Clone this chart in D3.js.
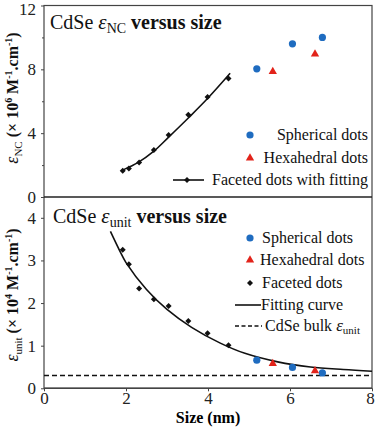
<!DOCTYPE html>
<html><head><meta charset="utf-8">
<script src="https://cdn.jsdelivr.net/npm/d3@7"></script>
<style>
body{margin:0;background:#fff;}
svg, svg text{font-family:"Liberation Serif","Times New Roman",serif;}
</style></head>
<body>
<svg id="c" width="375" height="427"></svg>
<script>
// ---- data ----
const xTicks = [0, 2, 4, 6, 8];
const topTicks = [0, 4, 8, 12];
const topMinor = [2, 6, 10];
const botTicks = [0, 1, 2, 3, 4];

const facetedSize = [1.92, 2.07, 2.32, 2.68, 3.04, 3.52, 3.99, 4.50];
const facetedNC   = [1.65, 1.78, 2.16, 2.94, 3.88, 5.16, 6.27, 7.42];
const facetedUnit = [3.25, 2.91, 2.34, 2.09, 1.93, 1.58, 1.29, 1.01];

const sphericalSize = [5.19, 6.06, 6.79];
const sphericalNC   = [8.03, 9.60, 10.0];
const sphericalUnit = [0.66, 0.49, 0.36];

const hexSize = [5.58, 6.61];
const hexNC   = [7.86, 8.95];
const hexUnit = [0.58, 0.41];

const fitNCSize = [1.93, 2.30, 2.68, 3.04, 3.52, 4.00, 4.54];
const fitNCVal  = [1.70, 2.17, 2.87, 3.75, 4.95, 6.20, 7.75];

const fitUnitSize = [1.62, 1.85, 2.0, 2.5, 3.0, 3.6, 4.3, 4.9, 5.7, 6.5, 7.3, 8.0];
const fitUnitVal  = [3.68, 3.22, 2.95, 2.32, 1.85, 1.43, 1.06, 0.82, 0.62, 0.50, 0.44, 0.40];

const bulkUnit = 0.30;

// ---- drawing ----
const FONT = '"Liberation Serif","Times New Roman",serif';
const svg = d3.select("#c");
const BLUE = "#1f6cc0", RED = "#e2231a", AX = "#444";
const x = d3.scaleLinear([0, 8], [44, 372]);
const yT = d3.scaleLinear([0, 12], [197, 5.5]);
const yB = d3.scaleLinear([0, 4.5], [388.3, 196.5]);

const zip = (a, b) => a.map((v, i) => [v, b[i]]);
const line = (ys) => d3.line().x(d => x(d[0])).y(d => ys(d[1])).curve(d3.curveCatmullRom);

// frames
svg.append("rect").attr("x", x(0)).attr("y", yT(12)).attr("width", x(8) - x(0)).attr("height", yB(0) - yT(12))
  .attr("fill", "none").attr("stroke", AX).attr("stroke-width", 1.2);
svg.append("line").attr("x1", x(0)).attr("x2", x(8)).attr("y1", yT(0)).attr("y2", yT(0))
  .attr("stroke", "#222").attr("stroke-width", 1.5);
svg.append("line").attr("x1", x(0)).attr("x2", x(8)).attr("y1", yB(0)).attr("y2", yB(0))
  .attr("stroke", AX).attr("stroke-width", 1.5);

function styleAxis(g) {
  g.attr("font-family", null).style("font-family", FONT);
  g.select(".domain").remove();
  g.selectAll("line").attr("stroke", AX);
  g.selectAll("text").attr("fill", "#222").attr("font-size", 17).style("font-family", FONT);
}

// y axes
const gT = svg.append("g").attr("transform", `translate(${x(0)},0)`)
  .call(d3.axisLeft(yT).tickValues(topTicks).tickSize(3).tickPadding(5).tickFormat(d3.format("d")))
  .call(styleAxis);
gT.selectAll(".tick text").filter(d => d === 12).attr("dy", "0.5em");
svg.append("g").attr("transform", `translate(${x(0)},0)`)
  .call(d3.axisLeft(yT).tickValues(topMinor).tickSize(2).tickFormat(""))
  .call(styleAxis);
svg.append("g").attr("transform", `translate(${x(0)},0)`)
  .call(d3.axisLeft(yB).tickValues(botTicks).tickSize(3).tickPadding(5).tickFormat(d3.format("d")))
  .call(styleAxis);
// x axis
const gX = svg.append("g").attr("transform", `translate(0,${yB(0)})`)
  .call(d3.axisBottom(x).tickValues(xTicks).tickSize(3).tickPadding(1).tickFormat(d3.format("d")))
  .call(styleAxis);
gX.selectAll(".tick text").filter(d => d === 8).attr("dx", "-0.12em");

svg.append("text").attr("x", x(4)).attr("y", 423).attr("text-anchor", "middle")
  .attr("font-size", 16).attr("font-weight", "bold").style("font-family", FONT).text("Size (nm)");

// y labels
function yLabel(cx, cy, sub, exp) {
  const t = svg.append("text").attr("transform", `translate(${cx},${cy}) rotate(-90)`)
    .attr("text-anchor", "middle").attr("font-size", 16).attr("font-weight", "bold").attr("fill", "#111")
    .style("font-family", FONT);
  t.append("tspan").attr("font-style", "italic").attr("font-weight", "normal").attr("font-size", 18).text("ε");
  t.append("tspan").attr("font-size", 11).attr("font-weight", "normal").attr("dy", 4).text(sub);
  t.append("tspan").attr("dy", -4).text(" (× 10");
  t.append("tspan").attr("font-size", 10).attr("dy", -6).text(exp);
  t.append("tspan").attr("dy", 6).text(" M");
  t.append("tspan").attr("font-size", 10).attr("dy", -6).text("-1");
  t.append("tspan").attr("dy", 6).text(".cm");
  t.append("tspan").attr("font-size", 10).attr("dy", -6).text("-1");
  t.append("tspan").attr("dy", 6).text(")");
}
yLabel(18, 98, "NC", "6");
yLabel(18, 295, "unit", "4");

// titles
function title(tx, ty, sub) {
  const t = svg.append("text").attr("x", tx).attr("y", ty).attr("font-size", 20).attr("fill", "#111")
    .style("font-family", FONT);
  t.append("tspan").text("CdSe ");
  t.append("tspan").attr("font-style", "italic").attr("font-size", 21).text("ε");
  t.append("tspan").attr("font-size", 14).attr("dy", 4).text(sub);
  t.append("tspan").attr("dy", -4).attr("font-weight", "bold").text(" versus size");
}
title(50, 29, "NC");
title(53, 223, "unit");

// markers
const diamond = d3.symbol().type(d3.symbolSquare).size(18);
const tri = d3.symbol().type(d3.symbolTriangle).size(30);
function markers(ys, fs, fv, ss, sv, hs, hv) {
  svg.append("g").selectAll("circle").data(zip(ss, sv)).join("circle")
    .attr("cx", d => x(d[0])).attr("cy", d => ys(d[1])).attr("r", 3.6).attr("fill", BLUE);
  svg.append("g").selectAll("path").data(zip(hs, hv)).join("path")
    .attr("transform", d => `translate(${x(d[0])},${ys(d[1])})`).attr("d", tri).attr("fill", RED);
  svg.append("g").selectAll("path").data(zip(fs, fv)).join("path")
    .attr("transform", d => `translate(${x(d[0])},${ys(d[1])}) rotate(45)`).attr("d", diamond).attr("fill", "#111");
}

// top panel
svg.append("path").datum(zip(fitNCSize, fitNCVal)).attr("d", line(yT))
  .attr("fill", "none").attr("stroke", "#111").attr("stroke-width", 1.6);
markers(yT, facetedSize, facetedNC, sphericalSize, sphericalNC, hexSize, hexNC);

// bottom panel
svg.append("line").attr("x1", x(0)).attr("x2", x(8)).attr("y1", yB(bulkUnit)).attr("y2", yB(bulkUnit))
  .attr("stroke", "#111").attr("stroke-width", 1.6).attr("stroke-dasharray", "5,3");
svg.append("path").datum(zip(fitUnitSize, fitUnitVal)).attr("d", line(yB))
  .attr("fill", "none").attr("stroke", "#111").attr("stroke-width", 1.6);
markers(yB, facetedSize, facetedUnit, sphericalSize, sphericalUnit, hexSize, hexUnit);

// legends
const LF = 16;
function txt(xp, y, anchor) {
  return svg.append("text").attr("x", xp).attr("y", y).attr("font-size", LF).attr("fill", "#111")
    .attr("text-anchor", anchor || "start").style("font-family", FONT);
}
// top legend
svg.append("circle").attr("cx", 250).attr("cy", 135).attr("r", 3.6).attr("fill", BLUE);
txt(368, 140, "end").text("Spherical dots");
svg.append("path").attr("transform", "translate(250,158)").attr("d", tri).attr("fill", RED);
txt(368, 163, "end").text("Hexahedral dots");
svg.append("line").attr("x1", 173).attr("x2", 204).attr("y1", 180).attr("y2", 180).attr("stroke", "#111").attr("stroke-width", 1.6);
svg.append("path").attr("transform", "translate(187,180) rotate(45)").attr("d", diamond).attr("fill", "#111");
txt(368, 185, "end").text("Faceted dots with fitting");

// bottom legend
svg.append("circle").attr("cx", 250).attr("cy", 238).attr("r", 3.6).attr("fill", BLUE);
txt(262, 243).text("Spherical dots");
svg.append("path").attr("transform", "translate(250,260)").attr("d", tri).attr("fill", RED);
txt(260, 265).text("Hexahedral dots");
svg.append("path").attr("transform", "translate(250,283) rotate(45)").attr("d", diamond).attr("fill", "#111");
txt(262, 288).text("Faceted dots");
svg.append("line").attr("x1", 235).attr("x2", 261).attr("y1", 305).attr("y2", 305).attr("stroke", "#111").attr("stroke-width", 1.6);
txt(261, 310).text("Fitting curve");
svg.append("line").attr("x1", 235).attr("x2", 262).attr("y1", 326).attr("y2", 326).attr("stroke", "#111").attr("stroke-width", 1.6).attr("stroke-dasharray", "4,2.5");
const bt = txt(265, 331);
bt.append("tspan").text("CdSe bulk ");
bt.append("tspan").attr("font-style", "italic").attr("font-size", 17).text("ε");
bt.append("tspan").attr("font-size", 11).attr("dy", 3).text("unit");
</script>
</body></html>
